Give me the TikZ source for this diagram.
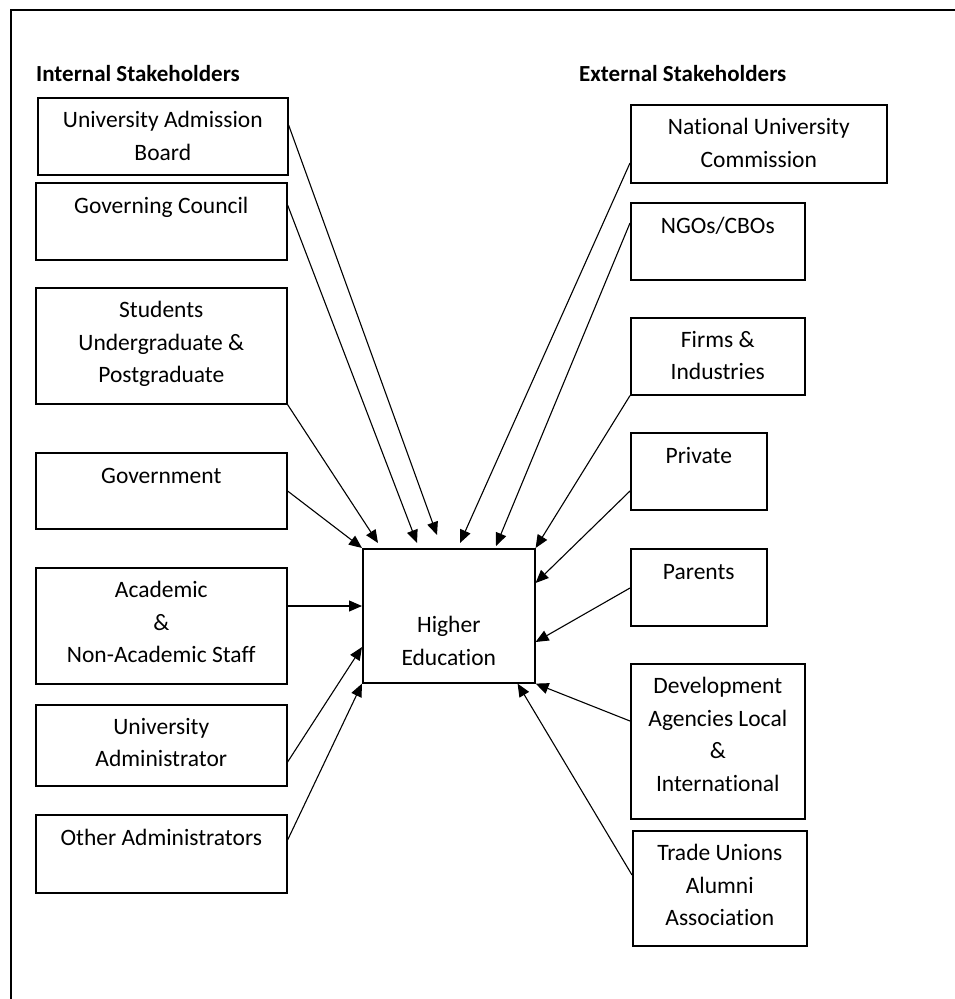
\documentclass[tikz,border=0pt]{standalone}
\usepackage{fontspec}
\setmainfont{Carlito}[Ligatures=NoCommon]
\usetikzlibrary{arrows.meta}

\begin{document}
\begin{tikzpicture}[
x=1pt,y=-1pt,
>={Triangle[length=13pt,width=11pt]},
font=\fontsize{23.5}{32.5}\selectfont,
box/.style={
draw,
line width=1.6pt,
anchor=north west,
inner sep=0pt
},
lbl/.style={
anchor=north,
yshift=-#1,
align=center,
inner sep=0pt,
execute at begin node=\rule{0pt}{17pt}
},
lbl/.default=14pt,
head/.style={
anchor=base west,
inner sep=0pt,
font=\fontsize{23}{32.5}\selectfont\bfseries
},
arrow/.style={->,line width=1.1pt}
]

\useasboundingbox (0,0) rectangle (955,999);

%---------------- Frame ----------------%

\draw[line width=1.5pt] (11,999) -- (11,10) -- (955,10);

\node[head] (inthead) at (36,81) {Internal Stakeholders};
\node[head] (exthead) at (579,81) {External Stakeholders};

%---------------- Centre ----------------%

\node[box,minimum width=172,minimum height=134,
label={[lbl=68pt]north:Higher\\Education}] (he) at (362,548) {};

%---------------- Internal ----------------%

\node[box,minimum width=250,minimum height=77,
label={[lbl]north:University Admission\\Board}] (uab) at (37,97) {};

\node[box,minimum width=251,minimum height=77,
label={[lbl]north:Governing Council}] (gc) at (35,182) {};

\node[box,minimum width=251,minimum height=116,
label={[lbl]north:Students\\Undergraduate \&\\Postgraduate}] (stud) at (35,287) {};

\node[box,minimum width=251,minimum height=76,
label={[lbl]north:Government}] (gov) at (35,452) {};

\node[box,minimum width=251,minimum height=116,
label={[lbl]north:Academic\\\&\\Non-Academic Staff}] (acad) at (35,567) {};

\node[box,minimum width=251,minimum height=81,
label={[lbl]north:University\\Administrator}] (uadm) at (35,704) {};

\node[box,minimum width=251,minimum height=78,
label={[lbl]north:Other Administrators}] (oadm) at (35,814) {};

%---------------- External ----------------%

\node[box,minimum width=256,minimum height=78,
label={[lbl]north:National University\\Commission}] (nuc) at (630,104) {};

\node[box,minimum width=174,minimum height=77,
label={[lbl]north:NGOs/CBOs}] (ngo) at (630,202) {};

\node[box,minimum width=174,minimum height=77,
label={[lbl]north:Firms \&\\Industries}] (firm) at (630,317) {};

\node[box,minimum width=136,minimum height=77,
label={[lbl]north:Private}] (priv) at (630,432) {};

\node[box,minimum width=136,minimum height=77,
label={[lbl]north:Parents}] (par) at (630,548) {};

\node[box,minimum width=174,minimum height=155,
label={[lbl]north:Development\\Agencies Local\\\&\\International}] (dev) at (630,663) {};

\node[box,minimum width=174,minimum height=115,
label={[lbl]north:Trade Unions\\Alumni\\Association}] (trade) at (632,830) {};

%---------------- Connections ----------------%

\draw[arrow] ([yshift=-28pt]uab.north east) -- ([xshift=75pt,yshift=13pt]he.north west);
\draw[arrow] ([yshift=-23pt]gc.north east) -- ([xshift=55pt,yshift=5pt]he.north west);
\draw[arrow] (stud.south east) -- ([xshift=16pt,yshift=5pt]he.north west);
\draw[arrow] ([yshift=-39pt]gov.north east) -- (he.north west);
\draw[arrow] ([yshift=-39pt]acad.north east) -- ([yshift=-58pt]he.north west);
\draw[arrow] ([yshift=-58pt]uadm.north east) -- ([yshift=-99pt]he.north west);
\draw[arrow] ([yshift=-26pt]oadm.north east) -- (he.south west);

\draw[arrow] ([yshift=-59pt]nuc.north west) -- ([xshift=98pt,yshift=5pt]he.north west);
\draw[arrow] ([yshift=-21pt]ngo.north west) -- ([xshift=134pt,yshift=2pt]he.north west);
\draw[arrow] (firm.south west) -- (he.north east);
\draw[arrow] ([yshift=-59pt]priv.north west) -- ([yshift=-35pt]he.north east);
\draw[arrow] ([yshift=-40pt]par.north west) -- ([yshift=-94pt]he.north east);
\draw[arrow] ([yshift=-58pt]dev.north west) -- (he.south east);
\draw[arrow] ([yshift=-45pt]trade.north west) -- ([xshift=-18pt]he.south east);

\end{tikzpicture}
\end{document}
